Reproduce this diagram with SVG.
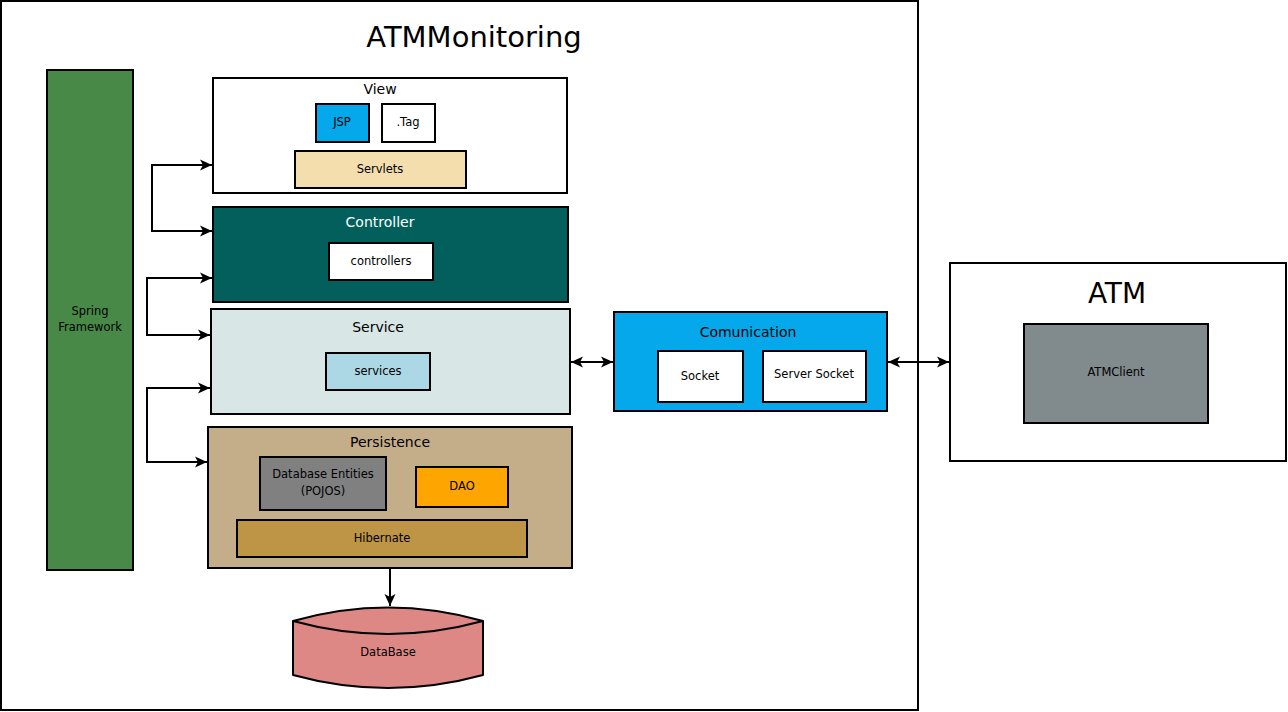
<svg xmlns="http://www.w3.org/2000/svg" width="1288" height="712" viewBox="0 0 1288 712">
<defs>
<marker id="arr" markerUnits="userSpaceOnUse" markerWidth="14" markerHeight="12" refX="12" refY="6" orient="auto-start-reverse" viewBox="0 0 14 12">
<path d="M0,0.5 L12,6 L0,11.5 L3,6 z" fill="#000"/>
</marker>
</defs>
<style>
rect, path.shape { stroke: #000; stroke-width: 2; }
text { font-family: "DejaVu Sans", "Liberation Sans", sans-serif; text-anchor: middle; fill: #000; }
.t { font-size: 14px; }
.s { font-size: 11.5px; }
.con path { fill: none; stroke: #000; stroke-width: 2; }
</style>
<rect x="1" y="1" width="917" height="709" fill="#fff"/>
<text x="474" y="47" style="font-size:29px">ATMMonitoring</text>

<g id="spring">
<rect x="47" y="70" width="86" height="500" fill="#488948"/>
<text class="s" x="90" y="315">Spring</text>
<text class="s" x="90" y="331">Framework</text>
</g>

<g id="view">
<rect x="213" y="78" width="354" height="115" fill="#fff"/>
<text class="t" x="380" y="94">View</text>
<g id="jsp"><rect x="316" y="104" width="53" height="38" fill="#05a9eb"/><text class="s" x="342" y="126">JSP</text></g>
<g id="tag"><rect x="382" y="104" width="53" height="38" fill="#fff"/><text class="s" x="408" y="126">.Tag</text></g>
<g id="servlets"><rect x="295" y="151" width="171" height="37" fill="#f4deae"/><text class="s" x="380" y="173">Servlets</text></g>
</g>

<g id="controller">
<rect x="213" y="207" width="355" height="95" fill="#025f5c"/>
<text class="t" x="380" y="227" style="fill:#fff">Controller</text>
<g id="controllers"><rect x="329" y="243" width="104" height="37" fill="#fff"/><text class="s" x="381" y="265">controllers</text></g>
</g>

<g id="service">
<rect x="211" y="309" width="359" height="105" fill="#d8e6e6"/>
<text class="t" x="378" y="332">Service</text>
<g id="services"><rect x="326" y="353" width="104" height="37" fill="#acd8e5"/><text class="s" x="378" y="375">services</text></g>
</g>

<g id="persistence">
<rect x="208" y="427" width="364" height="141" fill="#c4ae8a"/>
<text class="t" x="390" y="447">Persistence</text>
<g id="entities"><rect x="260" y="457" width="126" height="53" fill="#808080"/><text class="s" x="323" y="478">Database Entities</text><text class="s" x="323" y="495">(POJOS)</text></g>
<g id="dao"><rect x="416" y="467" width="92" height="40" fill="#ffa500"/><text class="s" x="462" y="490">DAO</text></g>
<g id="hibernate"><rect x="237" y="520" width="290" height="37" fill="#be9446"/><text class="s" x="382" y="542">Hibernate</text></g>
</g>

<g id="database">
<path class="shape" d="M293,621 Q388,594 483,621 L483,675 Q388,701 293,675 Z" fill="#de8886" stroke-linejoin="round"/>
<path class="shape" d="M293,621 Q388,647 483,621" fill="none"/>
<text class="s" x="388" y="656">DataBase</text>
</g>

<g id="comunication">
<rect x="614" y="312" width="273" height="99" fill="#05a9eb"/>
<text class="t" x="748" y="337">Comunication</text>
<g id="socket"><rect x="658" y="351" width="85" height="51" fill="#fff"/><text class="s" x="700" y="380">Socket</text></g>
<g id="serversocket"><rect x="763" y="351" width="103" height="51" fill="#fff"/><text class="s" x="814" y="378">Server Socket</text></g>
</g>

<g id="atm">
<rect x="950" y="263" width="336" height="198" fill="#fff"/>
<text x="1117" y="303" style="font-size:28px">ATM</text>
<g id="atmclient"><rect x="1024" y="324" width="184" height="99" fill="#818a8d"/><text class="s" x="1116" y="376">ATMClient</text></g>
</g>

<g id="connectors" class="con">
<path d="M212,165 H152 V231 H212" marker-start="url(#arr)" marker-end="url(#arr)"/>
<path d="M212,278 H147 V335 H210" marker-start="url(#arr)" marker-end="url(#arr)"/>
<path d="M210,388 H147 V462 H207" marker-start="url(#arr)" marker-end="url(#arr)"/>
<path d="M571,362 H613" marker-start="url(#arr)" marker-end="url(#arr)"/>
<path d="M888,362 H949" marker-start="url(#arr)" marker-end="url(#arr)"/>
<path d="M390,569 V606" marker-end="url(#arr)"/>
</g>
</svg>
